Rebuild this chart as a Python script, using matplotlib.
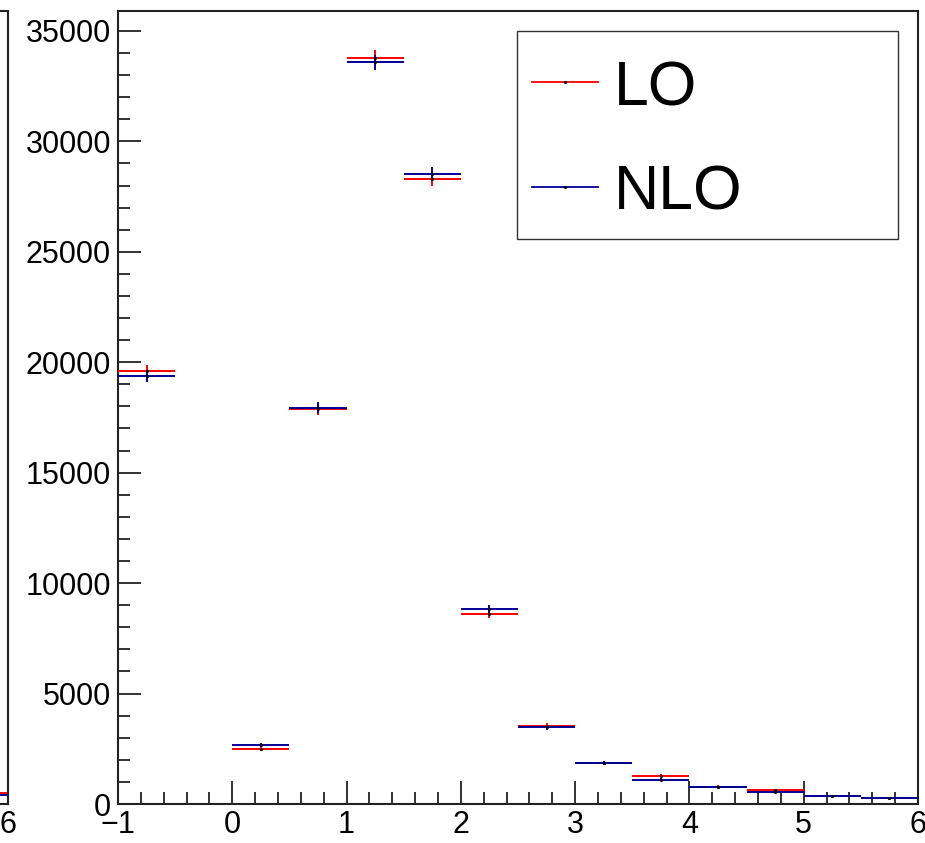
import numpy as np
import matplotlib
matplotlib.use("Agg")
import matplotlib.pyplot as plt
from matplotlib.ticker import MultipleLocator, FuncFormatter
from matplotlib.lines import Line2D
from matplotlib.patches import Rectangle

plt.rcParams['font.family'] = ['Liberation Sans', 'DejaVu Sans']

# Histogram binning and contents
bin_edges = np.arange(-1.0, 6.01, 0.5)
lo_counts = [19600, 0, 2490, 17870, 33790, 28310, 8600, 3530, 1860, 1270, 785, 635, 375, 287]
lo_errors = [270, 0, 95, 255, 350, 320, 175, 115, 82, 68, 53, 48, 36, 32]
nlo_counts = [19390, 0, 2660, 17950, 33580, 28520, 8815, 3475, 1845, 1105, 780, 545, 372, 285]
nlo_errors = [265, 0, 98, 255, 345, 320, 178, 112, 82, 63, 53, 44, 36, 32]
series_labels = ["LO", "NLO"]
series_colors = ["#ff0000", "#000099"]

# Tail of the neighbouring pad's histogram (last bin only visible)
prev_edges = [5.5, 6.0]
prev_lo_tail = [512]
prev_nlo_tail = [421]

y_max = 35900

W, H = 925, 843
fig = plt.figure(figsize=(W / 100, H / 100), dpi=100)


def x_label(v, p):
    return f"{v:.0f}".replace("-", "\u2212")


def style_axes(ax):
    ax.set_xlim(-1, 6)
    ax.set_ylim(0, y_max)
    ax.xaxis.set_major_locator(MultipleLocator(1))
    ax.xaxis.set_minor_locator(MultipleLocator(0.2))
    ax.yaxis.set_major_locator(MultipleLocator(5000))
    ax.yaxis.set_minor_locator(MultipleLocator(1000))
    ax.tick_params(which='both', direction='in', top=False, right=False,
                   color='#222222', width=1.3)
    ax.tick_params(which='major', length=16.5, labelsize=22)
    ax.tick_params(axis='x', which='major', pad=4)
    ax.tick_params(axis='y', which='major', pad=5)
    ax.tick_params(which='minor', length=8.5)
    for s in ax.spines.values():
        s.set_linewidth(1.5)
        s.set_color('#222222')
    ax.xaxis.set_major_formatter(FuncFormatter(x_label))


def draw_hist(ax, edges, counts, errors, color):
    edges = np.asarray(edges, dtype=float)
    counts = np.asarray(counts, dtype=float)
    errors = np.asarray(errors, dtype=float)
    centers = 0.5 * (edges[:-1] + edges[1:])
    keep = counts > 0
    ax.hlines(counts[keep], edges[:-1][keep], edges[1:][keep],
              colors=color, linewidth=1.4, zorder=3)
    ax.vlines(centers[keep], (counts - errors)[keep], (counts + errors)[keep],
              colors=color, linewidth=1.4, zorder=3)
    ax.plot(centers[keep], counts[keep], 'o', color='black',
            markersize=1.2, zorder=4)


# Neighbouring pad, mostly outside the canvas on the left
left_px, right_px, top_px, bottom_px = 118, 918, 11, 804
prev_w = 800
ax_prev = fig.add_axes([(8 - prev_w) / W, (H - bottom_px) / H,
                        prev_w / W, (bottom_px - top_px) / H])
style_axes(ax_prev)
ax_prev.tick_params(axis='y', which='both', labelleft=False)
ax_prev.xaxis.set_major_formatter(
    FuncFormatter(lambda v, p: x_label(v, p) if abs(v - 6) < 1e-9 else ""))
ax_prev.hlines(prev_lo_tail, prev_edges[0], prev_edges[1],
               colors=series_colors[0], linewidth=1.4)
ax_prev.hlines(prev_nlo_tail, prev_edges[0], prev_edges[1],
               colors=series_colors[1], linewidth=1.4)

# Main pad
ax = fig.add_axes([left_px / W, (H - bottom_px) / H,
                   (right_px - left_px) / W, (bottom_px - top_px) / H])
style_axes(ax)
draw_hist(ax, bin_edges, lo_counts, lo_errors, series_colors[0])
draw_hist(ax, bin_edges, nlo_counts, nlo_errors, series_colors[1])


# Legend box drawn in figure pixel coordinates
def fx(px):
    return px / W


def fy(py):
    return (H - py) / H


fig.patches.append(Rectangle((fx(517), fy(239)), fx(898) - fx(517), fy(31) - fy(239),
                             transform=fig.transFigure, facecolor='white',
                             edgecolor='#333333', linewidth=1.0, zorder=10))
for label, color, ly in zip(series_labels, series_colors, [82, 187]):
    fig.lines.append(Line2D([fx(532), fx(598)], [fy(ly), fy(ly)],
                            transform=fig.transFigure, color=color,
                            linewidth=1.3, zorder=11))
    fig.lines.append(Line2D([fx(565)], [fy(ly)], transform=fig.transFigure,
                            marker='o', markersize=1.2, color='black', zorder=12))
    fig.text(fx(614), fy(ly + 23), label, fontsize=45, ha='left',
             va='baseline', zorder=12)

fig.savefig("out.png", dpi=100)
